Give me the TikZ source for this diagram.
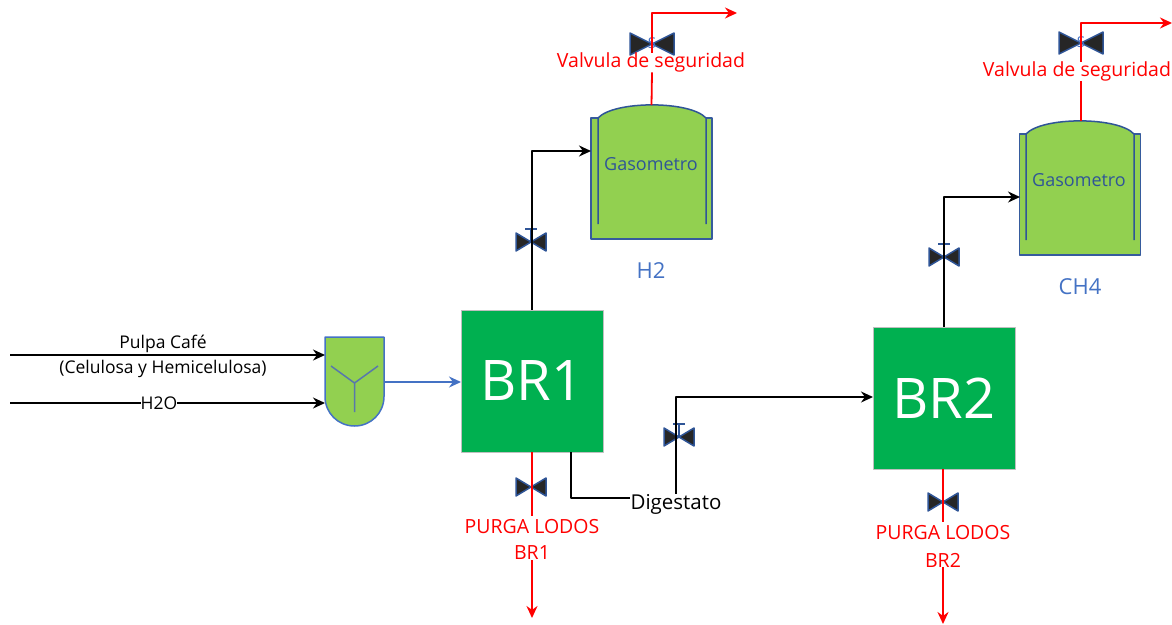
\documentclass[tikz,border=0pt]{standalone}
\usepackage{fontspec}
\setmainfont{Open Sans}
\usetikzlibrary{calc,arrows.meta}
\definecolor{verdeBR}{HTML}{00B050}
\definecolor{verdeTq}{HTML}{92D050}
\definecolor{azulB}{HTML}{4472C4}
\definecolor{azulV}{HTML}{2F5597}
\definecolor{rojo}{HTML}{FF0000}
\tikzset{
	reactor/.style={fill=verdeBR,draw=black!25,line width=0.5pt,minimum size=142pt,inner sep=0pt,text=white,font=\fontsize{56}{56}\selectfont},
	gasometro/.style={fill=verdeTq,draw=azulB!80!black,line width=1.5pt,minimum width=121pt,minimum height=121pt,inner sep=0pt},
	rotulo/.style={inner sep=0pt,font=\fontsize{17.5}{20}\selectfont},
	rotgas/.style={inner sep=0pt,text=azulV,font=\fontsize{18}{20}\selectfont},
	rotrojo/.style={inner sep=0pt,text=rojo,font=\fontsize{19.5}{22}\selectfont},
	rotazul/.style={inner sep=0pt,text=azulB,font=\fontsize{22}{24}\selectfont},
	linea/.style={line width=1.6pt,black},
	lineaR/.style={line width=1.8pt,rojo},
	valvula/.pic={
		\filldraw[fill=black!85,draw=azulV,line width=1.5pt] (-15,-9)--(15,9)--(15,-9)--(-15,9)--cycle;
	},
	vtallo/.pic={
		\draw[azulV,line width=1.2pt] (-6,-13)--(6,-13) (0,-13)--(0,0);
	},
	vseg/.pic={
		\filldraw[fill=black!85,draw=azulV,line width=1.5pt] (-22,-11)--(22,11)--(22,-11)--(-22,11)--cycle;
		\node[inner sep=0pt,text=azulB,font=\fontsize{15}{15}\selectfont] (-v) at (0,-1) {S};
	},
	domo/.pic={
		\fill[verdeTq] (-54,0) .. controls (-38,-17.5) and (38,-17.5) .. (54,0)--(54,3)--(-54,3)--cycle;
		\draw[azulV,line width=1.5pt] (-54,106)--(-54,0) .. controls (-38,-17.5) and (38,-17.5) .. (54,0)--(54,106);
	},
}
\begin{document}
\begin{tikzpicture}[>={Stealth[length=12pt,width=11pt]},line join=round,x=1pt,y=-1pt]
	\useasboundingbox (0,0) rectangle (1172,624);
	
	\node[reactor](BR1) at (532,381){BR1};
	\node[reactor](BR2) at (944,398){BR2};
	\node[gasometro](gas1) at (651.5,178.5){};
	\node[gasometro](gas2) at (1080,194.5){};
	\pic at (652,118) {domo};
	\pic at (1080,134) {domo};
	\node[rotgas](t1) at (651,164){Gasometro};
	\node[rotgas](t2) at (1079,180){Gasometro};
	\node[rotazul](H2) at (651,271){H2};
	\node[rotazul](CH4) at (1080,287){CH4};
	
	\coordinate (p1) at (10,355);
	\coordinate (p2) at (325,355);
	\coordinate (a1) at (10,403);
	\coordinate (a2) at (325,403);
	\coordinate (m1) at (384,382);
	\coordinate (m2) at (461,382);
	\coordinate (g1) at (591,151);
	\coordinate (g2) at (1020,197);
	\coordinate (d1) at (571,452);
	\coordinate (d3) at (873,397);
	\coordinate (s1) at (737,13);
	\coordinate (s2) at (1172,23);
	\coordinate (c1) at (532,618);
	\coordinate (c2) at (943,624);
	
	% mezclador
	\filldraw[fill=verdeTq,draw=azulB,line width=1.5pt] (325,337)--(384,337)--(384,396.5) .. controls (384,413) and (371,426) .. (354.5,426) .. controls (338,426) and (325,413) .. (325,396.5)--cycle;
	\draw[azulV!80,line width=1.5pt] (331,366)--(354.5,383)--(378,366) (354.5,383)--(354.5,412);
	
	\node[rotulo](pulpa) at (163,344){Pulpa Café};
	\node[rotulo](celu) at (163,369){(Celulosa y Hemicelulosa)};
	\draw[->,linea] (p1)--(p2);
	\draw[->,linea] (a1)--(a2);
	\node[rotulo,fill=white](agua) at (159,403){H2O};
	\draw[->,line width=1.4pt,azulB] (m1)--(m2);
	
	% valvulas
	\pic at (531,242) {valvula};
	\pic at (531,242) {vtallo};
	\pic at (944,257) {valvula};
	\pic at (944,257) {vtallo};
	\pic at (679,437) {valvula};
	\pic at (679,437) {vtallo};
	\pic at (531,487) {valvula};
	\pic at (943,502) {valvula};
	\pic (v1) at (652,44) {vseg};
	\pic (v2) at (1081,43) {vseg};
	
	\draw[->,linea] (BR1.north)|-(g1);
	\draw[->,linea] (BR2.north)|-(g2);
	\node[font=\fontsize{20.5}{22}\selectfont,inner sep=0pt](dig) at (676,504){Digestato};
	\draw[linea] (d1)|-(dig.west|-0,498);
	\draw[->,linea] (dig.north-|676,0)|-(d3);
	
	% lineas rojas
	\node[rotrojo](seg1) at (651,62.5){Valvula de seguridad};
	\node[rotrojo](seg2) at (1077,71.5){Valvula de seguridad};
	\node[rotrojo](pur1) at (532,527){PURGA LODOS};
	\node[rotrojo](br1) at (532,553){BR1};
	\node[rotrojo](pur2) at (943,533){PURGA LODOS};
	\node[rotrojo](br2) at (943,560){BR2};
	\draw[lineaR] (gas1.north|-0,105)--(seg1.south-|652,0);
	\draw[->,lineaR] (seg1.north-|652,0)|-(s1);
	\draw[lineaR] (1081,121)--(seg2.south-|1081,0);
	\draw[->,lineaR] (seg2.north-|1081,0)|-(s2);
	\draw[lineaR,shorten >=4pt] (BR1.south)--(pur1.north);
	\draw[->,lineaR] (br1.south)--(c1);
	\draw[lineaR,shorten >=4pt] (BR2.south-|pur2.north)--(pur2.north);
	\draw[->,lineaR] (br2.south)--(c2);
\end{tikzpicture}
\end{document}
